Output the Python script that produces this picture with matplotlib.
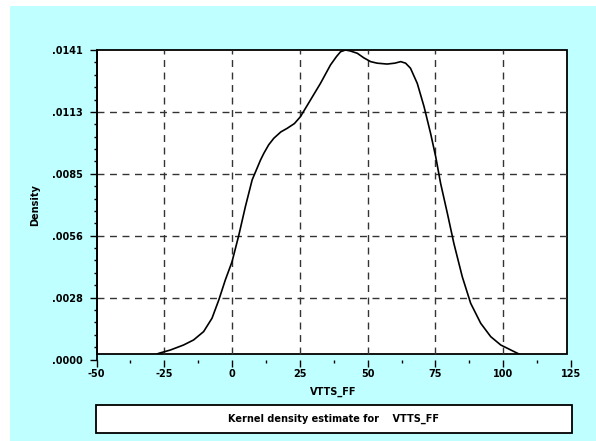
import numpy as np
import matplotlib
matplotlib.use("Agg")
import matplotlib.pyplot as plt
from matplotlib.patches import Rectangle
from matplotlib.ticker import FixedLocator, MultipleLocator

# density curve
vtts = [-30.0, -27.1, -22.8, -17.9, -14.2, -10.5, -7.4, -4.9, -2.5, 0.0, 2.5,
        4.9, 7.4, 10.5, 11.7, 13.5, 15.4, 18.0, 20.3, 23.0, 25.2, 28.9, 32.6,
        36.3, 38.5, 40.0, 41.8, 43.5, 46.2, 48.5, 51.1, 53.5, 57.2, 60.0,
        62.2, 64.0, 65.8, 68.3, 70.8, 73.2, 75.1, 76.9, 79.4, 81.8, 84.9,
        88.0, 91.7, 95.4, 99.1, 104.0, 108.0]
density = [0.00010, 0.00028, 0.00043, 0.00066, 0.00089, 0.00127, 0.00188,
           0.00271, 0.00362, 0.00446, 0.00567, 0.00696, 0.00818, 0.00909,
           0.00939, 0.00978, 0.01008, 0.01037, 0.01053, 0.01075, 0.01106,
           0.01182, 0.01258, 0.01342, 0.01380, 0.01402, 0.01410, 0.01406,
           0.01395, 0.01375, 0.01357, 0.01350, 0.01346, 0.01350, 0.01357,
           0.01350, 0.01327, 0.01258, 0.01152, 0.01031, 0.00924, 0.00803,
           0.00666, 0.00529, 0.00377, 0.00256, 0.00165, 0.00104, 0.00066,
           0.00036, 0.00012]

yticks = [0.0, 0.0028, 0.0056, 0.0085, 0.0113, 0.0141]
ylabels = [".0000", ".0028", ".0056", ".0085", ".0113", ".0141"]
xticks = [-50, -25, 0, 25, 50, 75, 100, 125]

ymax = 0.0141
ybot = 0.00025   # plot frame sits a little above the axis line
xright = 123.5

fig = plt.figure(figsize=(5.96, 4.41), dpi=100)
fig.patch.set_facecolor("white")
fig.patches.append(Rectangle((10 / 596, 0), 1, 1 - 6 / 441, transform=fig.transFigure,
                             facecolor="#C0FFFF", edgecolor="none", zorder=-10))

ax = fig.add_axes([96.5 / 596, 1 - 359.5 / 441, (571 - 96.5) / 596, 309.5 / 441])
ax.set_zorder(1)
ax.patch.set_visible(False)
ax.set_xlim(-50, 125)
ax.set_ylim(0, ymax)

# white plot box
box = Rectangle((-50, ybot), xright + 50, ymax - ybot, facecolor="white",
                edgecolor="black", lw=1.3, zorder=0.5, clip_on=False)
ax.add_patch(box)

line, = ax.plot(vtts, density, color="black", lw=1.2, zorder=3)
clip = Rectangle((-50, ybot), xright + 50, ymax - ybot, transform=ax.transData)
line.set_clip_path(clip)

ax.set_xticks(xticks)
ax.set_xticklabels([str(t) for t in xticks])
ax.xaxis.set_minor_locator(MultipleLocator(12.5))
ax.set_yticks(np.linspace(0, ymax, 6))
ax.set_yticklabels(ylabels)
ax.yaxis.set_minor_locator(FixedLocator(np.linspace(0, ymax, 26)))

# dashed grid
ax.vlines(xticks[1:-1], ybot, ymax, colors="#333333", lw=1,
          linestyles=[(0, (5, 4))], zorder=1)
ax.hlines(np.linspace(0, ymax, 6)[1:-1], -50, 125, colors="#333333", lw=1,
          linestyles=[(0, (5, 4))], zorder=1)

for s in ["top", "right", "bottom"]:
    ax.spines[s].set_visible(False)
ax.spines["left"].set_linewidth(1.3)

ax.tick_params(axis="x", which="major", direction="out", length=5, width=1, pad=2)
ax.tick_params(axis="x", which="minor", direction="out", length=2, width=1)
ax.tick_params(axis="y", which="major", direction="out", length=5, width=1, pad=5)
ax.tick_params(axis="y", which="minor", direction="out", length=2, width=1)
for lab in ax.get_xticklabels() + ax.get_yticklabels():
    lab.set_fontweight("bold")
    lab.set_fontsize(7)

fig.text(333 / 596, 1 - 392 / 441, "VTTS_FF", ha="center", va="center",
         fontsize=7, fontweight="bold")
fig.text(35 / 596, 1 - 205 / 441, "Density", ha="center", va="center",
         rotation=90, fontsize=7, fontweight="bold")

# caption box
fig.patches.append(Rectangle((96 / 596, 1 - 433 / 441), 476 / 596, 28 / 441,
                             transform=fig.transFigure, facecolor="white",
                             edgecolor="black", lw=1.3, zorder=2))
fig.text(334 / 596, 1 - 419 / 441, "Kernel density estimate for    VTTS_FF",
         ha="center", va="center", fontsize=7, fontweight="bold", zorder=3)

fig.savefig("out.png", dpi=100)
